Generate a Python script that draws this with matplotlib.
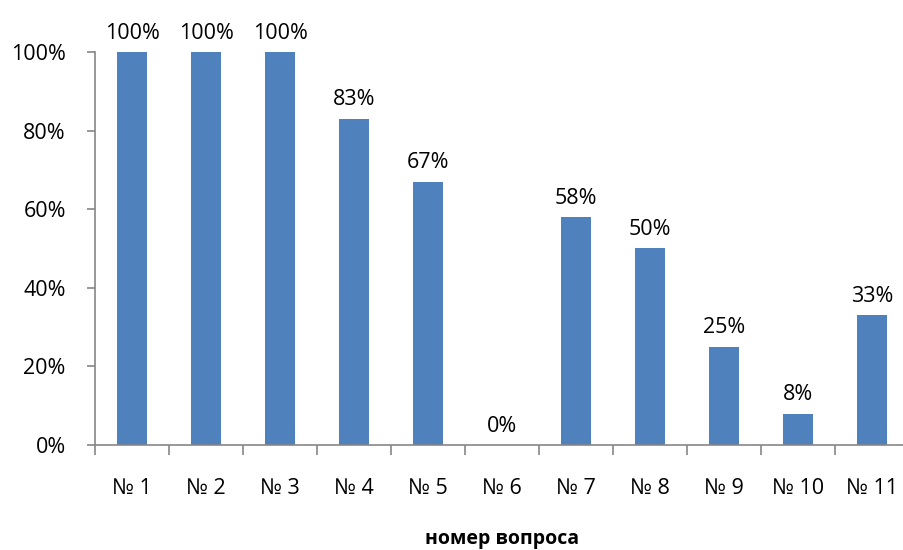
import matplotlib
matplotlib.use("Agg")
import matplotlib.pyplot as plt
from matplotlib.ticker import FixedLocator, PercentFormatter

categories = ["№ 1", "№ 2", "№ 3", "№ 4", "№ 5", "№ 6", "№ 7", "№ 8", "№ 9", "№ 10", "№ 11"]
values = [100, 100, 100, 83, 67, 0, 58, 50, 25, 8, 33]
yticks = [0, 20, 40, 60, 80, 100]
xlabel = "номер вопроса"

plt.rcParams['font.family'] = ['Open Sans', 'DejaVu Sans']

W, H = 904, 550
fig = plt.figure(figsize=(W / 100, H / 100), dpi=100)
ax = fig.add_axes([95 / W, (H - 445) / H, 814 / W, 393 / H])

x = list(range(len(categories)))
bars = ax.bar(x, values, width=0.4, color="#4F81BD", zorder=2)
ax.set_xlim(-0.5, len(categories) - 0.5)
ax.set_ylim(0, 100)

for xi, v in zip(x, values):
    ax.annotate(f"{v}%", (xi, v), xytext=(0, 6), textcoords="offset points",
                ha="center", va="bottom", fontsize=15.5, color="black")

ax.yaxis.set_major_locator(FixedLocator(yticks))
ax.yaxis.set_major_formatter(PercentFormatter(100, decimals=0))
ax.set_xticks(x)
ax.set_xticklabels(categories)
ax.set_xticks([i - 0.5 for i in range(len(categories) + 1)], minor=True)
ax.tick_params(axis="x", which="major", length=0, pad=24, labelsize=15.5)
ax.tick_params(axis="x", which="minor", length=7, color="#868686", width=1.2)
ax.tick_params(axis="y", length=6, color="#868686", width=1.2, labelsize=15.5, pad=15)

for s in ["top", "right"]:
    ax.spines[s].set_visible(False)
for s in ["left", "bottom"]:
    ax.spines[s].set_color("#868686")
    ax.spines[s].set_linewidth(1.2)

ax.set_xlabel(xlabel, fontsize=14, fontweight="bold", labelpad=21.5)

fig.savefig("out.png", dpi=100)
